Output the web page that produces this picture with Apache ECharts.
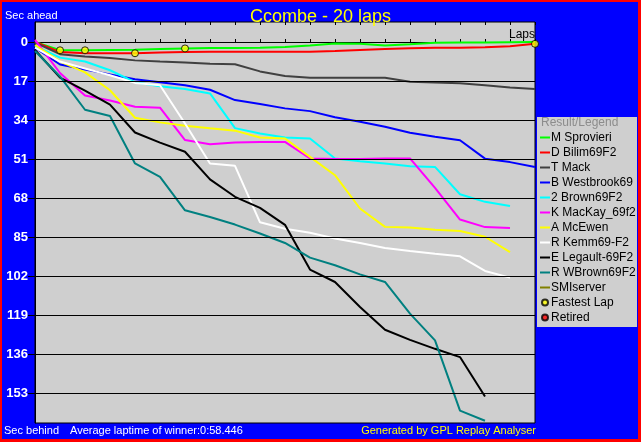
<!DOCTYPE html>
<html>
<head>
<meta charset="utf-8">
<script src="https://cdn.jsdelivr.net/npm/echarts@6/dist/echarts.min.js"></script>
<style>
html,body{margin:0;padding:0;background:#0000FF;}
#c{width:641px;height:442px;}
</style>
</head>
<body>
<div id="c"></div>
<script>
// ---- data ----
const laps = [0,1,2,3,4,5,6,7,8,9,10,11,12,13,14,15,16,17,18,19,20];
const yTicks = [0,17,34,51,68,85,102,119,136,153];
const gridLineValues = [17,34,51,68,85,102,119,136,153];

const sprovieri = [0,3.6,3.6,3.5,3.4,3.1,2.8,2.6,2.6,2.5,2.2,1.5,0.7,0.8,1.5,1.0,0.3,0.2,0.2,0.1,0];
const bilim     = [0,4.4,4.9,4.9,4.9,4.6,4.3,4.2,4.2,4.2,4.2,4.2,3.9,3.5,3.1,2.7,2.5,2.5,2.3,1.8,0.8];
const mack      = [0.3,5.3,6.3,7.0,8.0,8.5,8.9,9.5,9.7,12.8,14.8,15.6,15.6,15.6,15.6,17.3,17.6,18.0,18.8,19.8,20.5];
const westbrook = [2.5,9.8,12.0,14.1,16.2,17.5,18.8,20.8,25.3,27.0,28.9,30.1,32.8,34.7,36.9,39.5,41.3,42.8,50.8,52.3,54.4];
const brown     = [1.7,6.8,8.5,12.3,17.5,19.3,20.5,22.4,37.5,39.8,41.6,42.0,50.7,51.9,52.9,54.1,54.4,66.3,69.6,71.4];
const mackay    = [-0.9,13.5,23.3,25.5,28.2,28.6,42.7,44.5,43.8,43.5,43.5,50.7,50.9,50.9,50.7,50.7,63.5,77.3,80.6,81.0];
const mcewen    = [1.3,8.4,13.2,21.0,33.0,35.0,36.5,37.6,38.6,41.6,42.0,50.0,58.0,72.5,80.5,80.8,81.8,82.3,84.8,91.5];
const kemm      = [2.5,8.5,11.5,14.5,17.8,18.8,35.5,52.9,53.9,78.5,81.3,83.1,85.6,87.5,89.7,91.0,92.2,93.3,99.7,102.6];
const legault   = [3.5,15.5,21.2,27.3,39.4,43.8,47.8,59.8,67.4,72.2,79.6,99.1,104.5,115.4,125.3,129.7,133.6,137.2,154.4];
const wbrown    = [3.9,15.0,29.5,32.2,52.9,58.7,73.3,76.2,79.5,83.4,87.5,93.9,97.2,101.2,104.5,118.3,129.9,160.5,164.9];
const smiserver = [];

const fastestLapLaps   = [1,2,4,6,20];
const fastestLapValues = [3.6,3.6,4.9,2.8,0.8];

const driverNames  = ['M Sprovieri','D Bilim69F2','T Mack','B Westbrook69','2 Brown69F2','K MacKay_69f2','A McEwen','R Kemm69-F2','E Legault-69F2','R WBrown69F2','SMIserver'];
const driverValues = [sprovieri,bilim,mack,westbrook,brown,mackay,mcewen,kemm,legault,wbrown,smiserver];
const driverColors = ['#00FF00','#FF0000','#404040','#0000FF','#00FFFF','#FF00FF','#FFFF00','#FFFFFF','#000000','#008080','#808000'];

// ---- chart ----
const FONT = '"Liberation Sans", Arial, sans-serif';
const chart = echarts.init(document.getElementById('c'), null, {renderer: 'canvas'});

const series = [{
  name: '__grid', type: 'line', data: [], z: 1, silent: true, symbol: 'none',
  markLine: {
    silent: true, symbol: ['none','none'], label: {show: false},
    lineStyle: {color: '#000000', width: 1, type: 'solid'},
    animation: false,
    data: gridLineValues.map(v => ({yAxis: v}))
  }
}];

driverNames.forEach((n, k) => {
  series.push({
    name: n, type: 'line', symbol: 'none', showSymbol: false, smooth: false, z: 2,
    color: driverColors[k],
    lineStyle: {color: driverColors[k], width: 2},
    data: driverValues[k].map((v, i) => [laps[i], v])
  });
});

series.push({
  name: 'Fastest Lap', type: 'scatter', symbol: 'circle', symbolSize: 7, z: 5,
  itemStyle: {color: '#FFFF00', borderColor: '#000000', borderWidth: 1},
  data: fastestLapLaps.map((l, i) => [l, fastestLapValues[i]])
});
series.push({
  name: 'Retired', type: 'scatter', symbol: 'circle', symbolSize: 7, z: 5,
  itemStyle: {color: '#FF0000', borderColor: '#000000', borderWidth: 1},
  data: []
});

const LINE_ICON = 'path://M0,0L10,0L10,2L0,2Z';
const legendData = driverNames.map(n => ({name: n, icon: LINE_ICON}))
  .concat([{name: 'Fastest Lap', icon: 'circle'}, {name: 'Retired', icon: 'circle'}]);

const option = {
  animation: false,
  backgroundColor: '#0000FF',
  textStyle: {fontFamily: FONT},
  title: {
    text: 'Ccombe - 20 laps', left: 'center', top: 3,
    textStyle: {color: '#FFFF00', fontSize: 18, fontWeight: 'normal', fontFamily: FONT}
  },
  grid: {
    left: 35, top: 22, width: 500, height: 401,
    show: true, backgroundColor: '#CFCFCF', borderColor: '#000000', borderWidth: 1
  },
  xAxis: [{
    type: 'value', min: 0, max: 20, interval: 1, position: 'top',
    axisLine: {show: true, onZero: true, lineStyle: {color: '#000000', width: 1}},
    axisTick: {show: true, length: 3, lineStyle: {color: '#000000'}},
    axisLabel: {show: false}, splitLine: {show: false},
    name: 'Laps', nameLocation: 'end', nameGap: 0,
    nameTextStyle: {color: '#000000', fontSize: 12, fontFamily: FONT, align: 'right', verticalAlign: 'bottom', padding: [0,0,1,0]}
  }, {
    type: 'value', min: 0, max: 20, interval: 1, position: 'top',
    axisLine: {show: false, onZero: true},
    axisTick: {show: true, inside: true, length: 3, lineStyle: {color: '#000000'}},
    axisLabel: {show: false}, splitLine: {show: false}
  }],
  yAxis: {
    type: 'value', inverse: true, min: -8.71, max: 165.9,
    axisLine: {show: true, onZero: false, lineStyle: {color: '#000000'}},
    axisTick: {show: true, length: 7, customValues: yTicks, lineStyle: {color: '#000000'}},
    axisLabel: {customValues: yTicks, color: '#FFFFFF', fontWeight: 'bold', fontSize: 13, margin: 7, fontFamily: FONT},
    splitLine: {show: false}
  },
  legend: {
    orient: 'vertical', left: 540, top: 130, padding: 0, itemGap: 0,
    itemWidth: 10, itemHeight: 6, selectedMode: false, z: 10,
    textStyle: {color: '#000000', fontSize: 12, lineHeight: 15, fontFamily: FONT, padding: [0,0,0,-4]},
    data: legendData
  },
  graphic: [
    {type: 'rect', z: 0, silent: true, shape: {x: 537, y: 117, width: 100, height: 210}, style: {fill: '#CFCFCF'}},
    {type: 'text', z: 1, silent: true, style: {x: 541, y: 117, text: 'Result/Legend', fill: '#8C8C8C', font: '12px ' + FONT, verticalAlign: 'top'}},
    {type: 'text', z: 1, silent: true, style: {x: 5, y: 15.5, text: 'Sec ahead', fill: '#FFFFFF', font: '11px ' + FONT, verticalAlign: 'middle'}},
    {type: 'text', z: 1, silent: true, style: {x: 4, y: 431, text: 'Sec behind', fill: '#FFFFFF', font: '11px ' + FONT, verticalAlign: 'middle'}},
    {type: 'text', z: 1, silent: true, style: {x: 70, y: 431, text: 'Average laptime of winner:0:58.446', fill: '#FFFFFF', font: '11px ' + FONT, verticalAlign: 'middle'}},
    {type: 'text', z: 1, silent: true, style: {x: 536, y: 431, text: 'Generated by GPL Replay Analyser', fill: '#FFFF00', font: '11px ' + FONT, verticalAlign: 'middle', align: 'right'}},
    {type: 'rect', z: 20, silent: true, shape: {x: 0.5, y: 0.5, width: 639, height: 440}, style: {fill: 'none', stroke: '#FF0000', lineWidth: 3}}
  ],
  series: series
};
chart.setOption(option);
</script>
</body>
</html>
